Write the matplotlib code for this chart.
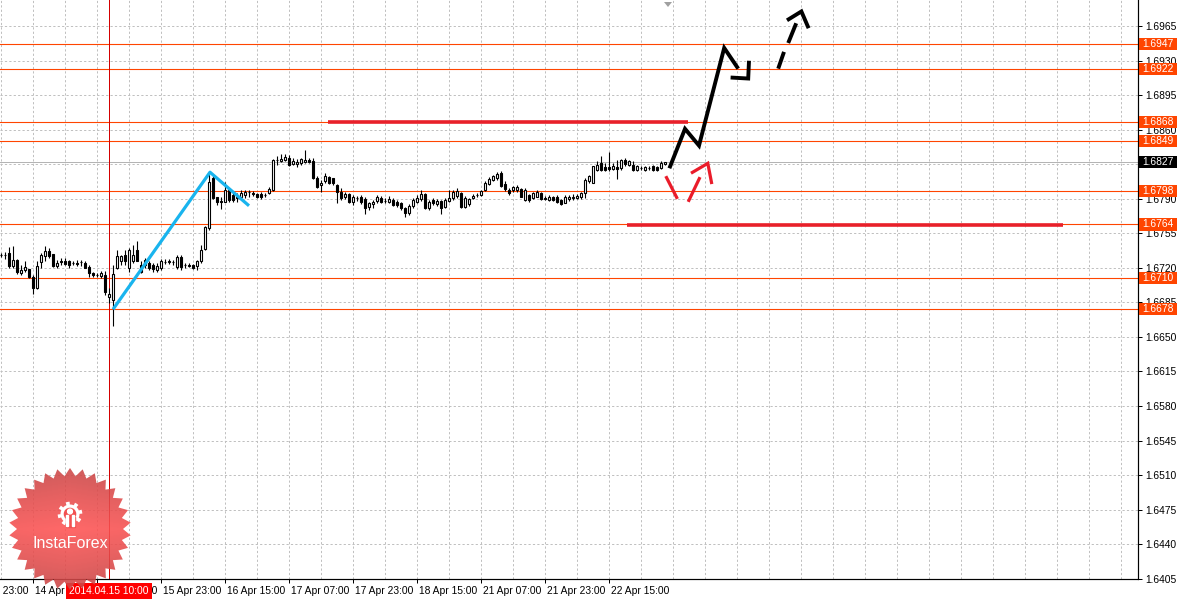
import matplotlib
matplotlib.use("Agg")
import matplotlib.pyplot as plt
import numpy as np
from matplotlib.patches import Rectangle, Polygon, Circle
from matplotlib.transforms import blended_transform_factory, offset_copy, Bbox, TransformedBbox
from matplotlib.colors import LinearSegmentedColormap

plt.rcParams['font.family'] = ['Liberation Sans', 'DejaVu Sans']

# ---------------- data (H1 candles, bar 0 = 14 Apr 07:00) ----------------
opens = [1.6733, 1.6733, 1.6735, 1.6722, 1.6728, 1.6715, 1.6718, 1.6719, 1.6711, 1.6700,
         1.6726, 1.6732, 1.6737, 1.6734, 1.6722, 1.6727, 1.6727, 1.6727, 1.6725, 1.6725,
         1.6726, 1.6725, 1.6721, 1.6715, 1.6713, 1.6712, 1.6713, 1.6691, 1.6687, 1.6720,
         1.6727, 1.6733, 1.6720, 1.6727, 1.6738, 1.6723, 1.6728, 1.6725, 1.6723, 1.6718,
         1.6720, 1.6726, 1.6726, 1.6726, 1.6721, 1.6731, 1.6723, 1.6723, 1.6723, 1.6722,
         1.6727, 1.6739, 1.6760, 1.6811, 1.6792, 1.6788, 1.6787, 1.6799, 1.6794, 1.6792,
         1.6792, 1.6794, 1.6797, 1.6796, 1.6795, 1.6795, 1.6794, 1.6796, 1.6799, 1.6829,
         1.6828, 1.6829, 1.6831, 1.6825, 1.6825, 1.6826, 1.6827, 1.6829, 1.6828, 1.6811,
         1.6804, 1.6808, 1.6812, 1.6811, 1.6804, 1.6797, 1.6792, 1.6795, 1.6787, 1.6791,
         1.6792, 1.6790, 1.6782, 1.6785, 1.6788, 1.6791, 1.6788, 1.6787, 1.6789, 1.6787,
         1.6786, 1.6781, 1.6776, 1.6783, 1.6787, 1.6790, 1.6795, 1.6781, 1.6789, 1.6785,
         1.6788, 1.6782, 1.6788, 1.6791, 1.6793, 1.6796, 1.6782, 1.6785, 1.6791, 1.6794,
         1.6794, 1.6799, 1.6805, 1.6809, 1.6811, 1.6816, 1.6805, 1.6799, 1.6799, 1.6799,
         1.6800, 1.6789, 1.6794, 1.6791, 1.6792, 1.6796, 1.6791, 1.6789, 1.6792, 1.6792,
         1.6789, 1.6786, 1.6790, 1.6791, 1.6791, 1.6792, 1.6796, 1.6808, 1.6806, 1.6819,
         1.6826, 1.6822, 1.6822, 1.6820, 1.6822, 1.6821, 1.6829, 1.6824, 1.6824, 1.6819,
         1.6821, 1.6819, 1.6821, 1.6823, 1.6822, 1.6821, 1.6825]
highs = [1.6735, 1.6736, 1.6741, 1.6742, 1.6729, 1.6723, 1.6727, 1.6719, 1.6713, 1.6727,
         1.6735, 1.6742, 1.6740, 1.6734, 1.6728, 1.6730, 1.6730, 1.6728, 1.6727, 1.6728,
         1.6728, 1.6727, 1.6723, 1.6716, 1.6715, 1.6717, 1.6717, 1.6700, 1.6723, 1.6738,
         1.6733, 1.6738, 1.6740, 1.6743, 1.6747, 1.6727, 1.6730, 1.6727, 1.6725, 1.6725,
         1.6729, 1.6729, 1.6729, 1.6728, 1.6733, 1.6733, 1.6725, 1.6725, 1.6724, 1.6728,
         1.6743, 1.6762, 1.6816, 1.6814, 1.6792, 1.6792, 1.6807, 1.6801, 1.6797, 1.6796,
         1.6799, 1.6799, 1.6799, 1.6798, 1.6796, 1.6797, 1.6796, 1.6802, 1.6830, 1.6833,
         1.6835, 1.6835, 1.6834, 1.6831, 1.6830, 1.6831, 1.6840, 1.6831, 1.6831, 1.6813,
         1.6809, 1.6816, 1.6813, 1.6811, 1.6805, 1.6801, 1.6797, 1.6796, 1.6794, 1.6793,
         1.6794, 1.6792, 1.6787, 1.6789, 1.6794, 1.6793, 1.6791, 1.6793, 1.6791, 1.6789,
         1.6787, 1.6782, 1.6785, 1.6791, 1.6794, 1.6799, 1.6796, 1.6789, 1.6791, 1.6790,
         1.6789, 1.6791, 1.6799, 1.6799, 1.6801, 1.6797, 1.6793, 1.6791, 1.6795, 1.6796,
         1.6799, 1.6808, 1.6812, 1.6814, 1.6817, 1.6818, 1.6808, 1.6801, 1.6803, 1.6804,
         1.6801, 1.6801, 1.6795, 1.6797, 1.6799, 1.6797, 1.6793, 1.6794, 1.6793, 1.6794,
         1.6790, 1.6794, 1.6794, 1.6795, 1.6795, 1.6797, 1.6811, 1.6814, 1.6823, 1.6828,
         1.6833, 1.6826, 1.6837, 1.6826, 1.6829, 1.6830, 1.6831, 1.6829, 1.6828, 1.6824,
         1.6823, 1.6823, 1.6823, 1.6824, 1.6823, 1.6828, 1.6827]
lows = [1.6731, 1.6729, 1.6720, 1.6720, 1.6714, 1.6713, 1.6716, 1.6710, 1.6694, 1.6699,
        1.6720, 1.6727, 1.6730, 1.6721, 1.6720, 1.6723, 1.6723, 1.6720, 1.6723, 1.6722,
        1.6722, 1.6720, 1.6711, 1.6711, 1.6711, 1.6710, 1.6693, 1.6684, 1.6661, 1.6719,
        1.6723, 1.6723, 1.6716, 1.6725, 1.6727, 1.6715, 1.6720, 1.6718, 1.6716, 1.6716,
        1.6718, 1.6724, 1.6724, 1.6723, 1.6719, 1.6718, 1.6720, 1.6721, 1.6719, 1.6718,
        1.6725, 1.6738, 1.6758, 1.6790, 1.6784, 1.6780, 1.6787, 1.6787, 1.6787, 1.6787,
        1.6789, 1.6791, 1.6792, 1.6793, 1.6791, 1.6790, 1.6792, 1.6795, 1.6798, 1.6824,
        1.6827, 1.6828, 1.6823, 1.6824, 1.6822, 1.6824, 1.6826, 1.6826, 1.6810, 1.6801,
        1.6797, 1.6806, 1.6805, 1.6804, 1.6786, 1.6789, 1.6790, 1.6786, 1.6784, 1.6788,
        1.6785, 1.6775, 1.6779, 1.6781, 1.6786, 1.6786, 1.6786, 1.6786, 1.6783, 1.6782,
        1.6779, 1.6772, 1.6774, 1.6781, 1.6786, 1.6788, 1.6780, 1.6779, 1.6784, 1.6783,
        1.6775, 1.6781, 1.6787, 1.6789, 1.6791, 1.6781, 1.6781, 1.6783, 1.6790, 1.6792,
        1.6793, 1.6798, 1.6804, 1.6808, 1.6809, 1.6802, 1.6798, 1.6794, 1.6797, 1.6797,
        1.6792, 1.6788, 1.6787, 1.6790, 1.6792, 1.6789, 1.6789, 1.6788, 1.6788, 1.6786,
        1.6784, 1.6786, 1.6788, 1.6789, 1.6790, 1.6790, 1.6791, 1.6806, 1.6806, 1.6818,
        1.6818, 1.6818, 1.6818, 1.6819, 1.6810, 1.6819, 1.6823, 1.6823, 1.6818, 1.6818,
        1.6819, 1.6818, 1.6819, 1.6818, 1.6818, 1.6820, 1.6824]
closes = [1.6733, 1.6733, 1.6722, 1.6728, 1.6716, 1.6718, 1.6721, 1.6711, 1.6700, 1.6722,
          1.6733, 1.6737, 1.6732, 1.6722, 1.6725, 1.6726, 1.6724, 1.6723, 1.6725, 1.6724,
          1.6726, 1.6720, 1.6715, 1.6713, 1.6713, 1.6715, 1.6696, 1.6694, 1.6714, 1.6732,
          1.6732, 1.6727, 1.6738, 1.6733, 1.6727, 1.6716, 1.6723, 1.6720, 1.6719, 1.6722,
          1.6727, 1.6726, 1.6727, 1.6726, 1.6731, 1.6721, 1.6723, 1.6722, 1.6720, 1.6727,
          1.6738, 1.6761, 1.6807, 1.6791, 1.6787, 1.6787, 1.6799, 1.6789, 1.6789, 1.6791,
          1.6796, 1.6797, 1.6797, 1.6795, 1.6792, 1.6792, 1.6794, 1.6800, 1.6829, 1.6829,
          1.6830, 1.6832, 1.6824, 1.6828, 1.6827, 1.6830, 1.6829, 1.6827, 1.6811, 1.6802,
          1.6806, 1.6813, 1.6806, 1.6806, 1.6797, 1.6791, 1.6795, 1.6787, 1.6792, 1.6791,
          1.6787, 1.6781, 1.6786, 1.6787, 1.6792, 1.6787, 1.6788, 1.6790, 1.6784, 1.6784,
          1.6781, 1.6776, 1.6783, 1.6789, 1.6791, 1.6795, 1.6781, 1.6787, 1.6786, 1.6788,
          1.6781, 1.6789, 1.6791, 1.6797, 1.6798, 1.6782, 1.6791, 1.6790, 1.6793, 1.6794,
          1.6798, 1.6806, 1.6810, 1.6813, 1.6815, 1.6803, 1.6800, 1.6796, 1.6802, 1.6802,
          1.6792, 1.6799, 1.6789, 1.6796, 1.6797, 1.6790, 1.6790, 1.6792, 1.6789, 1.6787,
          1.6785, 1.6792, 1.6792, 1.6792, 1.6793, 1.6796, 1.6809, 1.6813, 1.6823, 1.6824,
          1.6819, 1.6819, 1.6820, 1.6823, 1.6820, 1.6829, 1.6825, 1.6828, 1.6819, 1.6823,
          1.6821, 1.6822, 1.6821, 1.6819, 1.6819, 1.6826, 1.6827]

time_tick_bars = [-8, 8, 24, 40, 56, 72, 88, 104, 120, 136, 152]
time_tick_labels = ['11 Apr 23:00', '14 Apr 15:00', '15 Apr 07:00', '15 Apr 23:00',
                    '16 Apr 15:00', '17 Apr 07:00', '17 Apr 23:00', '18 Apr 15:00',
                    '21 Apr 07:00', '21 Apr 23:00', '22 Apr 15:00']
price_ticks = [1.6405, 1.6440, 1.6475, 1.6510, 1.6545, 1.6580, 1.6615, 1.6650, 1.6685,
               1.6720, 1.6755, 1.6790, 1.6825, 1.6860, 1.6895, 1.6930, 1.6965]
level_prices = [1.6947, 1.6922, 1.6868, 1.6849, 1.6798, 1.6764, 1.6710, 1.6678]
current_price = 1.6827
crosshair_bar = 27
crosshair_label = '2014.04.15 10:00'

# hand-drawn analysis marks (bar index, price)
zigzag_x = [28, 52.25, 62]
zigzag_y = [1.6678, 1.6817, 1.6783]
resist_x = [81.75, 171.75]
resist_y = [1.6868, 1.6868]
support_x = [156.5, 265.5]
support_y = [1.6763, 1.6763]
black_path_x = [167.1, 171.0, 174.5, 180.8, 184.3]
black_path_y = [1.6821, 1.6861, 1.6844, 1.6943, 1.6922]
black_hook_x = [182.4, 186.8, 187.0]
black_hook_y = [1.6913, 1.6912, 1.6930]
dash1_x = [194.3, 195.75]
dash1_y = [1.6922, 1.6939]
dash2_x = [196.8, 198.8]
dash2_y = [1.6948, 1.6968]
black_head_x = [196.5, 200.1, 201.9]
black_head_y = [1.6971, 1.6980, 1.6963]
red_down_x = [166.2, 169.1]
red_down_y = [1.6813, 1.6790]
red_up_x = [171.8, 174.75]
red_up_y = [1.6787, 1.6812]
red_head_x = [172.5, 176.7, 177.7]
red_head_y = [1.6816, 1.6826, 1.6805]

# ---------------- figure ----------------
W, H = 1180, 599
fig = plt.figure(figsize=(W / 100, H / 100), dpi=100)
fig.patch.set_facecolor('white')
ax_w, ax_h = 1138, 579
ax = fig.add_axes([0, (H - ax_h) / H, ax_w / W, ax_h / H])
ax.set_facecolor('white')
ax.set_xlim(-0.25, 284.25)
ax.set_ylim(1.64046, 1.69916)

px = 0.72  # one pixel in points
grid_col = '#c0c0c0'
for b in range(0, 285, 8):
    ax.axvline(b, color=grid_col, lw=px, ls=(0, (2.2, 2.2)), zorder=1)
for p in price_ticks:
    ax.axhline(p, color=grid_col, lw=px, ls=(0, (2.2, 2.2)), zorder=1)

# level lines
lvl_col = '#ff4500'
for p in level_prices:
    ax.axhline(p, color=lvl_col, lw=px * 1.1, zorder=2)
ax.axhline(current_price, color='#b4b4b4', lw=px, zorder=2)
ax.axvline(crosshair_bar, color='#d40000', lw=px, zorder=2)

# candles
o = np.array(opens); c = np.array(closes); h = np.array(highs); l = np.array(lows)
idx = np.arange(len(o))
up = c >= o
ax.vlines(idx, l, h, color='black', lw=px * 1.1, zorder=3)
ax.bar(idx[up], (c - o)[up], bottom=o[up], width=0.58, facecolor='white',
       edgecolor='black', lw=px * 1.1, zorder=4)
ax.bar(idx[~up], (c - o)[~up], bottom=o[~up], width=0.58, facecolor='black',
       edgecolor='black', lw=px * 1.1, zorder=4)

# drawings
ax.plot(zigzag_x, zigzag_y, color='#19b4ee', lw=2.3, zorder=5, solid_capstyle='butt')
ax.plot(resist_x, resist_y, color='#e8202a', lw=2.6, zorder=5, solid_capstyle='butt')
ax.plot(support_x, support_y, color='#e8202a', lw=2.6, zorder=5, solid_capstyle='butt')
for xs, ys in [(black_path_x, black_path_y), (black_hook_x, black_hook_y),
               (dash1_x, dash1_y), (dash2_x, dash2_y), (black_head_x, black_head_y)]:
    ax.plot(xs, ys, color='black', lw=2.8, zorder=6, solid_capstyle='butt',
            solid_joinstyle='miter')
for xs, ys in [(red_down_x, red_down_y), (red_up_x, red_up_y), (red_head_x, red_head_y)]:
    ax.plot(xs, ys, color='#ea1c2a', lw=2.3, zorder=6, solid_capstyle='butt',
            solid_joinstyle='miter')

# spines
for s in ['top', 'left']:
    ax.spines[s].set_visible(False)
for s in ['right', 'bottom']:
    ax.spines[s].set_color('black')
    ax.spines[s].set_linewidth(px * 1.2)

fs = 7.4
# y axis on the right
ax.yaxis.tick_right()
ax.set_yticks(price_ticks)
ax.set_yticklabels([f'{p:.4f}' for p in price_ticks])
ax.tick_params(axis='y', direction='out', length=3, width=px, pad=2, labelsize=fs,
               colors='black')
clipbox = TransformedBbox(Bbox([[0, 16 / H], [1, 1]]), fig.transFigure)
lab0 = ax.yaxis.get_major_ticks()[0].label2
lab0.set_clip_on(True)
lab0.set_clip_box(clipbox)

# x axis ticks + labels (drawn as text so partly clipped labels appear)
vis = [b for b in time_tick_bars if b >= 0]
ax.set_xticks(vis)
ax.set_xticklabels([])
ax.tick_params(axis='x', direction='out', length=3, width=px, colors='black')
tb = blended_transform_factory(ax.transData, ax.transAxes)
for b, lab in zip(time_tick_bars, time_tick_labels):
    ax.text(b, 0, lab, transform=offset_copy(tb, fig=fig, x=2, y=-12, units='dots'),
            ha='left', va='center', fontsize=fs, color='black', clip_on=False)
ax.text(crosshair_bar, 0, crosshair_label,
        transform=offset_copy(tb, fig=fig, x=0, y=-12, units='dots'),
        ha='center', va='center', fontsize=fs, color='white', clip_on=False, zorder=10,
        bbox=dict(boxstyle='square,pad=0.3', fc='#ff0000', ec='none'))

# price label boxes on right
ty = blended_transform_factory(ax.transAxes, ax.transData)
def price_box(p, fc):
    bh = 0.00122
    r = Rectangle((1.0 + 1 / ax_w, p - bh / 2), 38 / ax_w, bh, transform=ty,
                  facecolor=fc, edgecolor='none', clip_on=False, zorder=8)
    ax.add_patch(r)
    ax.text(1.0 + 4 / ax_w, p, f'{p:.4f}', transform=ty, ha='left', va='center',
            fontsize=fs, color='white', clip_on=False, zorder=9)
for p in level_prices:
    price_box(p, lvl_col)
price_box(current_price, 'black')

# ---------------- overlay (logo, shift marker) ----------------
ov = fig.add_axes([0, 0, 1, 1], zorder=10)
ov.set_xlim(0, W); ov.set_ylim(H, 0); ov.axis('off'); ov.patch.set_alpha(0)

cx, cy = 70, 529
N = 30
ang = np.linspace(0, 2 * np.pi, 2 * N, endpoint=False) - np.pi / 2
rad = np.where(np.arange(2 * N) % 2 == 0, 61, 53)
star = Polygon(np.c_[cx + rad * np.cos(ang), cy + rad * np.sin(ang)], closed=True,
               fc='none', ec='none')
ov.add_patch(star)
yy, xx = np.mgrid[-1:1:120j, -1:1:120j]
grad = np.clip(np.abs(yy) * 0.85 + np.abs(xx) * 0.15, 0, 1)
cmap = LinearSegmentedColormap.from_list('ifx', ['#ff5353', '#e24b4b', '#bf4444'])
im = ov.imshow(grad, extent=(cx - 62, cx + 62, cy + 62, cy - 62), cmap=cmap,
               alpha=0.88, aspect='auto', zorder=1, interpolation='bilinear')
im.set_clip_path(star)
ov.set_xlim(0, W); ov.set_ylim(H, 0)

# gear icon
gx0, gy0 = 70, 514
t = np.linspace(0, 2 * np.pi, 400)
rg = 9.5 + 2.8 * (np.cos(8 * (t + np.pi / 16)) > 0.2)
ov.fill(gx0 + rg * np.cos(t), gy0 + rg * np.sin(t), color='white', zorder=3, lw=0)
ov.add_patch(Circle((gx0, gy0), 5.6, color='#f25050', zorder=4))
ov.add_patch(Rectangle((gx0 - 4.5, gy0 + 3), 9, 10, color='#f25050', zorder=4))
ov.add_patch(Circle((gx0, gy0 - 2.5), 2.4, color='white', zorder=5))
ov.add_patch(Rectangle((gx0 - 4.2, gy0 + 1), 2.4, 11, color='white', zorder=5))
ov.add_patch(Rectangle((gx0 + 1.8, gy0 + 1), 2.4, 11, color='white', zorder=5))
ov.text(cx, 543, 'InstaForex', color='white', fontsize=11.5, ha='center', va='center',
        zorder=6)

# chart-shift marker
ov.add_patch(Polygon([[664, 2], [672, 2], [668, 7]], closed=True, fc='#a0a0a0',
                     ec='none', zorder=6))

fig.savefig('out.png', dpi=100, facecolor='white')
